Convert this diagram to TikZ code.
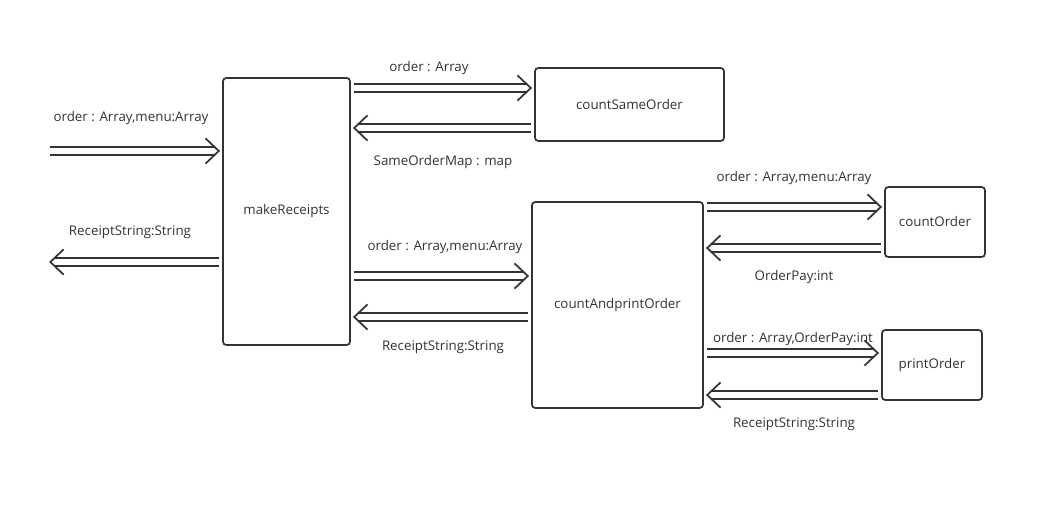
\documentclass[tikz,border=0pt]{standalone}
\usepackage{fontspec}
\setmainfont{Open Sans}
\usetikzlibrary{decorations.markings}
\definecolor{ink}{HTML}{333333}
\tikzstyle{proc}  = [draw=ink, line width=1.3pt, rounded corners=2.5pt, text=ink, font=\normalsize, inner sep=0pt]
\tikzstyle{lbl}   = [text=ink, font=\normalsize, inner sep=0pt]
\tikzstyle{flow}  = [preaction={draw=ink, line width=1.3pt, double=white, double distance=5pt, shorten >=6.3pt, shorten <=2pt},
                     postaction={decorate},
                     decoration={markings, mark=at position 1 with {\draw[ink, line width=1.3pt, line join=miter] (-12.5pt,9.5pt) -- (-2.5pt,0pt) -- (-12.5pt,-9.5pt);}}]

\begin{document}
\begin{tikzpicture}[x=0.75pt, y=-0.75pt]
	\useasboundingbox (0,0) rectangle (1047,506);

	%%%% processes
	\node[proc, minimum width=95.25pt,  minimum height=200.25pt] (mr)  at (286.5,211.5) {makeReceipts};
	\node[proc, minimum width=141.75pt, minimum height=54.75pt]  (csm) at (629.5,104.5) {countSameOrder};
	\node[proc, minimum width=128.25pt, minimum height=154.5pt]  (cap) at (617.5,305)   {countAndprintOrder};
	\node[proc, minimum width=75pt,     minimum height=52.5pt]   (co)  at (935,222)     {countOrder};
	\node[proc, minimum width=75pt,     minimum height=52.5pt]   (po)  at (932,365)     {printOrder};

	%%%% free ends
	\coordinate (in)  at (47,151);
	\coordinate (out) at (47,262);

	%%%% labels
	\foreach \pos/\name/\txt in {{(131,118)/lin/{order : Array,menu:Array}}, {(130,232)/lout/{ReceiptString:String}},
		{(429,68)/lcs/{order : Array}}, {(443,162)/lsm/{SameOrderMap : map}},
		{(445,247)/lca/{order : Array,menu:Array}}, {(443,347)/lrs/{ReceiptString:String}},
		{(794,178)/lco/{order : Array,menu:Array}}, {(794,277)/lop/{OrderPay:int}},
		{(793,339)/lpo/{order : Array,OrderPay:int}}, {(794,424)/lpr/{ReceiptString:String}}}
	\node[lbl] (\name) at \pos {\txt};

	%%%% calls
	\path[flow] (in) -- (mr.west |- in);
	\path[flow] (mr.west |- out) -- (out);
	\foreach \source/\dest/\y in {mr/csm/88, mr/cap/276, cap/co/207, cap/po/353}
	\path[flow] (\source.east |- 0,\y) -- (\dest.west |- 0,\y);

	%%%% returns
	\foreach \source/\dest/\y in {csm/mr/128, cap/mr/317, co/cap/248, po/cap/395}
	\path[flow] (\source.west |- 0,\y) -- (\dest.east |- 0,\y);
\end{tikzpicture}
\end{document}
